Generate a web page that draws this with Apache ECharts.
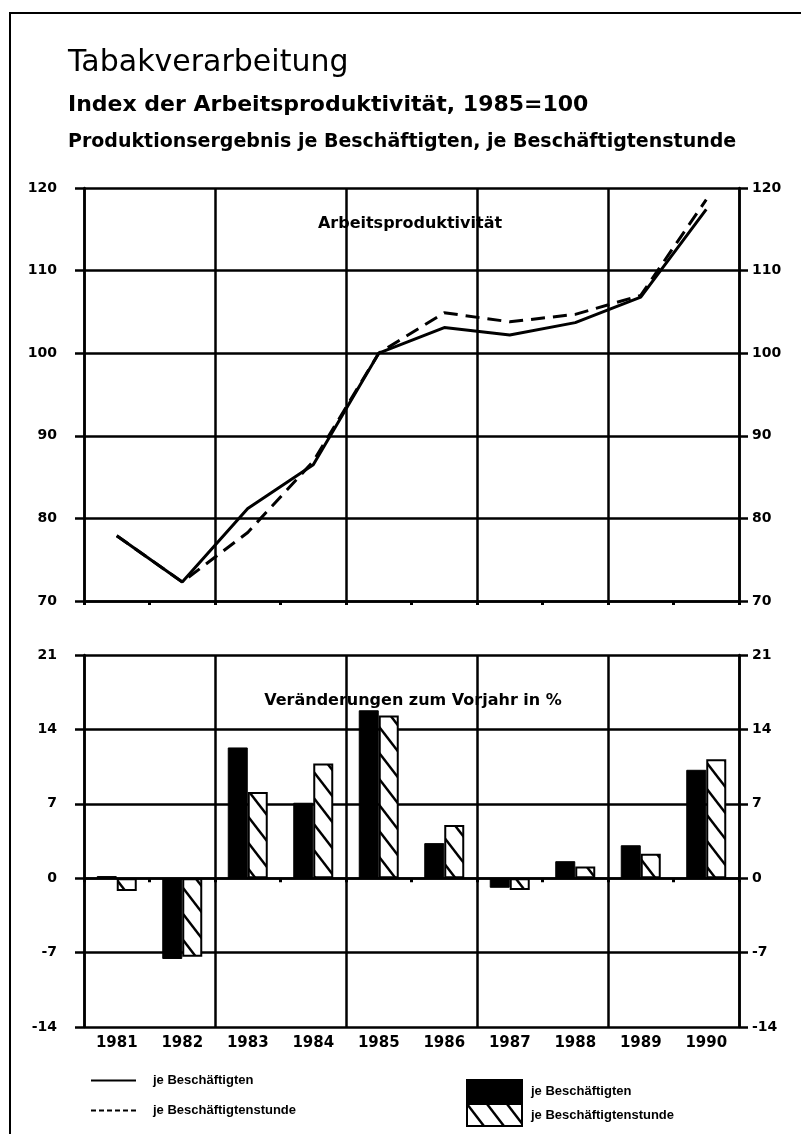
<!DOCTYPE html>
<html>
<head>
<meta charset="utf-8">
<script src="https://cdn.jsdelivr.net/npm/echarts@6/dist/echarts.min.js"></script>
<style>
  html, body { margin: 0; padding: 0; background: #fff; }
  #chart { width: 801px; height: 1134px; }
</style>
</head>
<body>
<div id="chart"></div>
<script>
// Jahre
const years = ['1981', '1982', '1983', '1984', '1985', '1986', '1987', '1988', '1989', '1990']
// Index der Arbeitsproduktivität, 1985 = 100
const indexJeBeschaeftigten = [77.9, 72.3, 81.2, 86.5, 100.0, 103.1, 102.2, 103.7, 106.8, 117.4]
const indexJeStunde = [77.9, 72.3, 78.3, 86.9, 100.0, 104.9, 103.8, 104.7, 107.0, 118.6]
// Veränderungen zum Vorjahr in %
const changeJeBeschaeftigten = [0.2, -7.6, 12.3, 7.1, 15.8, 3.3, -0.9, 1.6, 3.1, 10.2]
const changeJeStunde = [-1.2, -7.4, 8.1, 10.8, 15.3, 5.0, -1.1, 1.1, 2.3, 11.2]
// Achsen
const indexMin = 70
const indexMax = 120
const indexStep = 10
const changeMin = -14
const changeMax = 21
const changeStep = 7

const FONT = 'DejaVu Sans'
const SMALLFONT = 'Liberation Sans'

// Schraffur für die Stundenbalken
function hatchPattern () {
  const w = 20
  const h = 26
  const c = document.createElement('canvas')
  c.width = w
  c.height = h
  const ctx = c.getContext('2d')
  ctx.fillStyle = '#fff'
  ctx.fillRect(0, 0, w, h)
  ctx.strokeStyle = '#000'
  ctx.lineWidth = 2.5
  for (let dx = -w; dx <= w; dx += w) {
    ctx.beginPath()
    ctx.moveTo(dx - 2, -2 * h / w)
    ctx.lineTo(dx + w + 2, h + 2 * h / w)
    ctx.stroke()
  }
  return { image: c, repeat: 'repeat' }
}

const chart = echarts.init(document.getElementById('chart'), null, { renderer: 'canvas' })

const axisLabelStyle = { color: '#000', fontFamily: FONT, fontWeight: 'bold', fontSize: 14 }
const blackLine = { color: '#000', width: 2.5 }

function yAxes (gridIndex, min, max, step) {
  return [
    {
      gridIndex: gridIndex,
      type: 'value',
      position: 'left',
      min: min,
      max: max,
      interval: step,
      axisLine: { show: true, lineStyle: blackLine },
      axisTick: { show: true, length: 9, lineStyle: blackLine },
      axisLabel: Object.assign({ margin: 27 }, axisLabelStyle),
      splitLine: { show: true, lineStyle: blackLine }
    },
    {
      gridIndex: gridIndex,
      type: 'value',
      position: 'right',
      min: min,
      max: max,
      interval: step,
      axisLine: { show: true, lineStyle: blackLine },
      axisTick: { show: true, length: 9, lineStyle: blackLine },
      axisLabel: Object.assign({ margin: 13 }, axisLabelStyle),
      splitLine: { show: false }
    }
  ]
}

function xAxis (gridIndex, showLabels) {
  return {
    gridIndex: gridIndex,
    type: 'category',
    data: years,
    boundaryGap: true,
    axisLine: { show: true, lineStyle: blackLine },
    axisTick: { show: true, interval: 0, length: 4, lineStyle: { color: '#000', width: 3 } },
    axisLabel: {
      show: showLabels,
      interval: 0,
      color: '#000',
      fontFamily: FONT,
      fontWeight: 'bold',
      fontSize: 15,
      margin: 9
    },
    splitLine: {
      show: true,
      interval: function (i) { return i % 2 === 0 },
      lineStyle: blackLine
    }
  }
}

const option = {
  backgroundColor: '#fff',
  animation: false,
  title: [
    {
      text: 'Tabakverarbeitung',
      left: 63,
      top: 43,
      textStyle: { fontFamily: FONT, fontWeight: 'normal', fontSize: 30, color: '#000' }
    },
    {
      text: 'Index der Arbeitsproduktivität, 1985=100',
      left: 63,
      top: 89,
      textStyle: { fontFamily: FONT, fontWeight: 'bold', fontSize: 22, color: '#000' }
    },
    {
      text: 'Produktionsergebnis je Beschäftigten, je Beschäftigtenstunde',
      left: 63,
      top: 128,
      textStyle: { fontFamily: FONT, fontWeight: 'bold', fontSize: 19, color: '#000' }
    },
    {
      text: 'Arbeitsproduktivität',
      left: 405,
      top: 211,
      textAlign: 'center',
      textStyle: { fontFamily: FONT, fontWeight: 'bold', fontSize: 16, color: '#000' }
    },
    {
      text: 'Veränderungen zum Vorjahr in %',
      left: 408,
      top: 688,
      textAlign: 'center',
      textStyle: { fontFamily: FONT, fontWeight: 'bold', fontSize: 16, color: '#000' }
    }
  ],
  legend: [
    {
      data: [
        { name: 'Index: je Beschäftigten', lineStyle: { width: 2, type: 'solid' } },
        { name: 'Index: je Beschäftigtenstunde', lineStyle: { width: 2, type: [5, 3] } }
      ],
      orient: 'vertical',
      left: 90,
      top: 1074,
      padding: 0,
      itemWidth: 45,
      itemHeight: 14,
      itemGap: 17,
      selectedMode: false,
      itemStyle: { opacity: 0 },
      formatter: function (name) { return name.replace(/^.*: /, '') },
      textStyle: { fontFamily: SMALLFONT, fontWeight: 'bold', fontSize: 13, color: '#000', padding: [0, 0, 0, 12] }
    },
    {
      data: ['Veränderung: je Beschäftigten', 'Veränderung: je Beschäftigtenstunde'],
      orient: 'vertical',
      left: 466,
      top: 1079,
      padding: 0,
      icon: 'rect',
      itemWidth: 55,
      itemHeight: 22,
      itemGap: 0,
      selectedMode: false,
      formatter: function (name) { return name.replace(/^.*: /, '') },
      textStyle: { fontFamily: SMALLFONT, fontWeight: 'bold', fontSize: 13, color: '#000', padding: [0, 0, 0, 4] }
    }
  ],
  grid: [
    { left: 84, right: 62, top: 188, height: 413 },
    { left: 84, right: 62, top: 655, height: 372 }
  ],
  xAxis: [xAxis(0, false), xAxis(1, true)],
  yAxis: yAxes(0, indexMin, indexMax, indexStep).concat(yAxes(1, changeMin, changeMax, changeStep)),
  series: [
    {
      name: 'Index: je Beschäftigten',
      type: 'line',
      xAxisIndex: 0,
      yAxisIndex: 0,
      data: indexJeBeschaeftigten,
      symbol: 'none',
      z: 4,
      lineStyle: { color: '#000', width: 3, type: 'solid' },
      itemStyle: { color: '#000' }
    },
    {
      name: 'Index: je Beschäftigtenstunde',
      type: 'line',
      xAxisIndex: 0,
      yAxisIndex: 0,
      data: indexJeStunde,
      symbol: 'none',
      z: 3,
      lineStyle: { color: '#000', width: 3, type: [14, 8] },
      itemStyle: { color: '#000' }
    },
    {
      name: 'Veränderung: je Beschäftigten',
      type: 'bar',
      xAxisIndex: 1,
      yAxisIndex: 2,
      data: changeJeBeschaeftigten,
      barWidth: 20,
      barGap: '0%',
      itemStyle: { color: '#000', borderColor: '#000', borderWidth: 1 }
    },
    {
      name: 'Veränderung: je Beschäftigtenstunde',
      type: 'bar',
      xAxisIndex: 1,
      yAxisIndex: 2,
      data: changeJeStunde,
      barWidth: 20,
      barGap: '0%',
      itemStyle: { color: hatchPattern(), borderColor: '#000', borderWidth: 2 }
    }
  ],
  graphic: [
    {
      // Rahmen um die Grafik
      type: 'rect',
      silent: true,
      shape: { x: 10, y: 13, width: 820, height: 1140 },
      style: { fill: null, stroke: '#000', lineWidth: 2 }
    }
  ]
}

chart.setOption(option)
</script>
</body>
</html>
